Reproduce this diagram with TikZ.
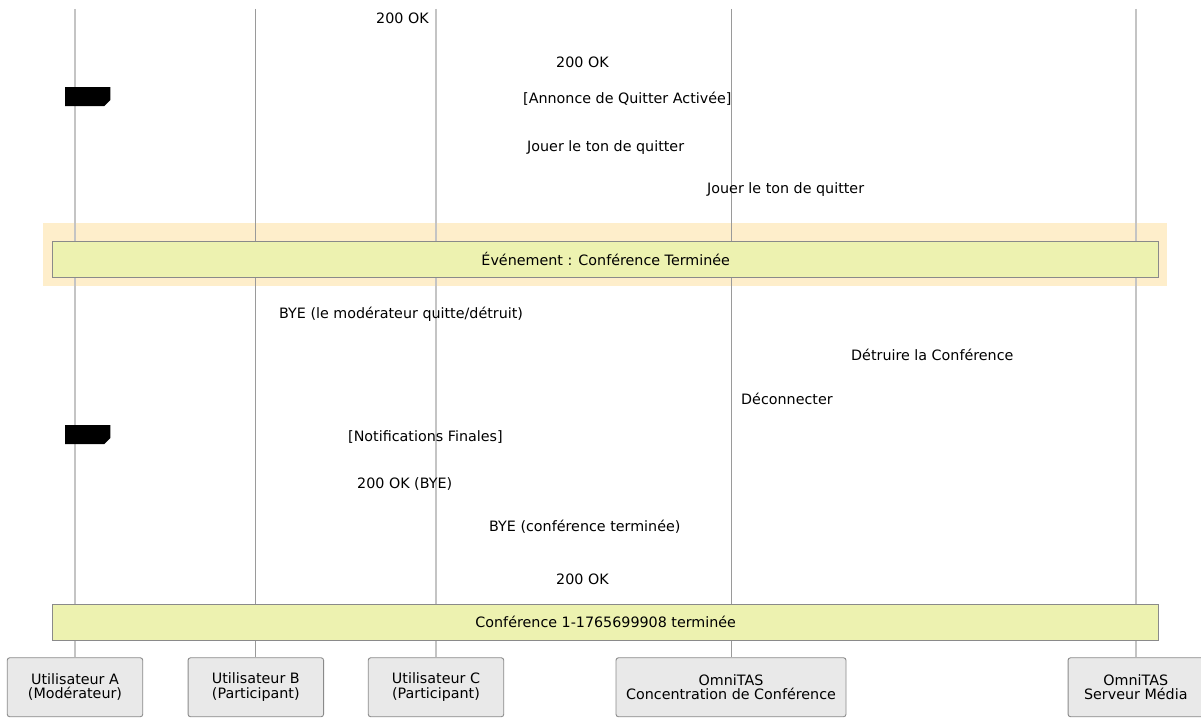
\documentclass[tikz,border=0pt]{standalone}
\usepackage{fontspec}
\setmainfont{DejaVu Sans}
\definecolor{bandc}{HTML}{FEEECB}
\definecolor{notec}{HTML}{EDF2B0}
\definecolor{partc}{HTML}{E9E9E9}
\definecolor{edgec}{HTML}{8A8A8A}
\definecolor{lifelt}{HTML}{C4C4C4}
\definecolor{lifedk}{HTML}{9A9A9A}
\begin{document}
\begin{tikzpicture}[x=1pt,y=-1pt,
  every node/.style={font=\fontsize{14.3}{14.5}\selectfont, inner sep=0pt},
  lbl/.style={anchor=west, text height=10.5pt, text depth=3pt, yshift=-2pt},
  part/.style={draw=edgec, fill=partc, rounded corners=2.5pt, line width=0.9pt, align=center, minimum height=59pt, anchor=north},
  lifel/.style={draw=lifelt, line width=1.6pt},
  lifed/.style={draw=lifedk, line width=0.9pt},
  bar/.style={draw=edgec, fill=notec, line width=0.9pt, minimum height=35.5pt, minimum width=1106pt, anchor=north west},
  blk/.style={fill=black}]
\useasboundingbox (0,0) rectangle (1201,717);
% group band
\fill[bandc] (43,223) rectangle (1167,286);
% participants (bottom)
\node[part, minimum width=135.5pt] (pa) at (75,657.3) {Utilisateur A\\(Modérateur)};
\node[part, minimum width=135.5pt] (pb) at (255.8,657.3) {Utilisateur B\\(Participant)};
\node[part, minimum width=135.5pt] (pc) at (436,657.3) {Utilisateur C\\(Participant)};
\node[part, minimum width=230pt] (pd) at (731,657.3) {OmniTAS\\Concentration de Conférence};
\node[part, minimum width=135.5pt] (pe) at (1135.8,657.3) {OmniTAS\\Serveur Média};
% lifelines
\coordinate (ta) at (75,9);
\coordinate (tb) at (255.8,9);
\coordinate (tc) at (436,9);
\coordinate (td) at (731,9);
\coordinate (te) at (1135.8,9);
\draw[lifel] (ta) -- (pa.north);
\draw[lifed] (tb) -- (pb.north);
\draw[lifel] (tc) -- (pc.north);
\draw[lifed] (td) -- (pd.north);
\draw[lifel] (te) -- (pe.north);
% bars
\node[bar] (ev) at (52.3,241) {Événement : Conférence Terminée};
\node[bar] (fin) at (52.3,604) {Conférence 1-1765699908 terminée};
% black marks
\fill[blk] (65,87) -- (110.3,87) -- (110.3,100) -- (104.3,106) -- (65,106) -- cycle;
\fill[blk] (65,425) -- (110.3,425) -- (110.3,438) -- (104.3,444) -- (65,444) -- cycle;
% labels
\node[lbl] (m1) at (376,18) {200 OK};
\node[lbl] (m2) at (556,62) {200 OK};
\node[lbl] (m3) at (523,98) {[Annonce de Quitter Activée]};
\node[lbl] (m4) at (527,146) {Jouer le ton de quitter};
\node[lbl] (m5) at (707,188) {Jouer le ton de quitter};
\node[lbl] (m6) at (279,313) {BYE (le modérateur quitte/détruit)};
\node[lbl] (m7) at (851,355) {Détruire la Conférence};
\node[lbl] (m8) at (741,399) {Déconnecter};
\node[lbl] (m9) at (348,436) {[Notifications Finales]};
\node[lbl] (m10) at (357,483) {200 OK (BYE)};
\node[lbl] (m11) at (489,526) {BYE (conférence terminée)};
\node[lbl] (m12) at (556,579) {200 OK};
\end{tikzpicture}
\end{document}
